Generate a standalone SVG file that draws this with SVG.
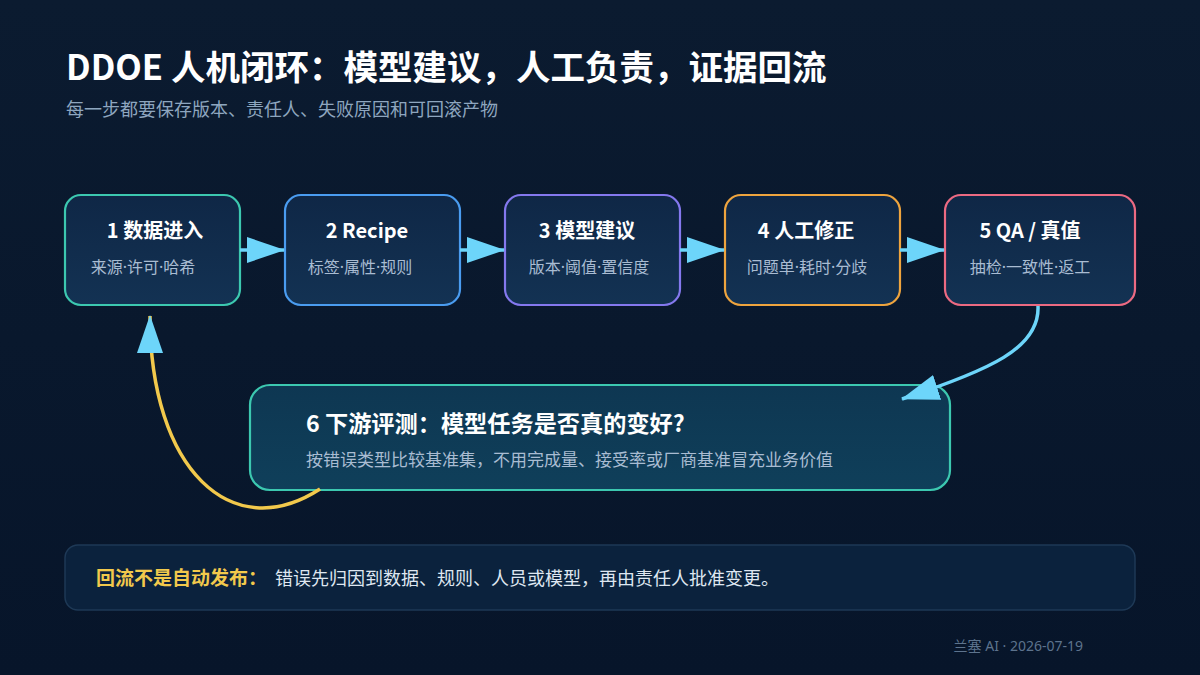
<svg xmlns="http://www.w3.org/2000/svg" width="1200" height="675" viewBox="0 0 1200 675">
<defs>
<linearGradient id="bg" x1="0" y1="0" x2="0" y2="1">
<stop offset="0" stop-color="#0b1b30"/>
<stop offset="1" stop-color="#07152a"/>
</linearGradient>
<linearGradient id="nodeFill" x1="0" y1="0" x2="0" y2="1">
<stop offset="0" stop-color="#0f2746"/>
<stop offset="1" stop-color="#133253"/>
</linearGradient>
<linearGradient id="evalFill" x1="0" y1="0" x2="0" y2="1">
<stop offset="0" stop-color="#0e3752"/>
<stop offset="1" stop-color="#0f3f5a"/>
</linearGradient>
<marker id="arrow" markerUnits="userSpaceOnUse" markerWidth="38" markerHeight="26" viewBox="0 0 38 26" refX="37" refY="13" orient="auto">
<path d="M0,0 L38,13 L0,26 Z" fill="#6dd5fa"/>
</marker>
<style>
.node rect{fill:url(#nodeFill);stroke-width:2.2}
.t{font-family:"Noto Sans CJK SC","Noto Sans",sans-serif;}
.l{font-family:"Noto Sans","Noto Sans CJK SC",sans-serif;}
.nt{font-size:20px;font-weight:700;fill:#ffffff;text-anchor:middle}
.ns{font-size:16px;fill:#a9bcd2;text-anchor:middle}
.conn path{fill:none;stroke-width:3.5}
.cy{stroke:#6dd5fa}
.yl{stroke:#f2c94c}
</style>
</defs>
<rect width="1200" height="675" fill="url(#bg)"/>
<g id="header">
<text class="t" x="66" y="80" font-size="34.5" font-weight="700" fill="#ffffff">DDOE 人机闭环：模型建议，人工负责，证据回流</text>
<text class="t" x="66" y="116" font-size="18" fill="#8ea6bf">每一步都要保存版本、责任人、失败原因和可回滚产物</text>
</g>
<g id="node1" class="node">
<rect x="65" y="195" width="175" height="110" rx="16" stroke="#3cc8b0"/>
<text class="t nt" x="155" y="238">1 数据进入</text>
<text class="l ns" x="143" y="273">来源·许可·哈希</text>
</g>
<g id="node2" class="node">
<rect x="285" y="195" width="175" height="110" rx="16" stroke="#4a9cf0"/>
<text class="t nt" x="367" y="238">2 Recipe</text>
<text class="l ns" x="360" y="273">标签·属性·规则</text>
</g>
<g id="node3" class="node">
<rect x="505" y="195" width="175" height="110" rx="16" stroke="#8478ee"/>
<text class="t nt" x="587" y="238">3 模型建议</text>
<text class="l ns" x="589" y="273">版本·阈值·置信度</text>
</g>
<g id="node4" class="node">
<rect x="725" y="195" width="175" height="110" rx="16" stroke="#eea43e"/>
<text class="t nt" x="806" y="238">4 人工修正</text>
<text class="l ns" x="807" y="273">问题单·耗时·分歧</text>
</g>
<g id="node5" class="node">
<rect x="945" y="195" width="190" height="110" rx="16" stroke="#ec6a82"/>
<text class="t nt" x="1030" y="238">5 QA / 真值</text>
<text class="l ns" x="1030" y="273">抽检·一致性·返工</text>
</g>
<g id="node6">
<rect x="250" y="385" width="700" height="105" rx="20" fill="url(#evalFill)" stroke="#3cc8b0" stroke-width="2.2"/>
<text class="t" x="306" y="432" font-size="23.2" font-weight="700" fill="#ffffff">6 下游评测：模型任务是否真的变好?</text>
<text class="t" x="306" y="466" font-size="17" fill="#a9bcd2">按错误类型比较基准集，不用完成量、接受率或厂商基准冒充业务价值</text>
</g>
<g id="connectors" class="conn">
<path class="cy" d="M240,250 L284,250" marker-end="url(#arrow)"/>
<path class="cy" d="M460,250 L504,250" marker-end="url(#arrow)"/>
<path class="cy" d="M680,250 L724,250" marker-end="url(#arrow)"/>
<path class="cy" d="M900,250 L944,250" marker-end="url(#arrow)"/>
<path class="cy" d="M1038,306 C1040,348 990,370 902,399" marker-end="url(#arrow)"/>
<path class="yl" d="M320,489 C232,546 150,470 150,316" marker-end="url(#arrow)"/>
</g>
<g id="note">
<rect x="65" y="545" width="1070" height="65" rx="13" fill="#0b223d" stroke="#1e3956" stroke-width="1.5"/>
<text class="t" x="96" y="585" font-size="19" font-weight="700" fill="#f2c94c">回流不是自动发布：</text>
<text class="t" x="275" y="585" font-size="18" fill="#dfe7f1">错误先归因到数据、规则、人员或模型，再由责任人批准变更。</text>
</g>
<g id="footer">
<text class="l" x="1083" y="651" font-size="14" fill="#5d738d" text-anchor="end">兰塞 AI · 2026-07-19</text>
</g>
</svg>
